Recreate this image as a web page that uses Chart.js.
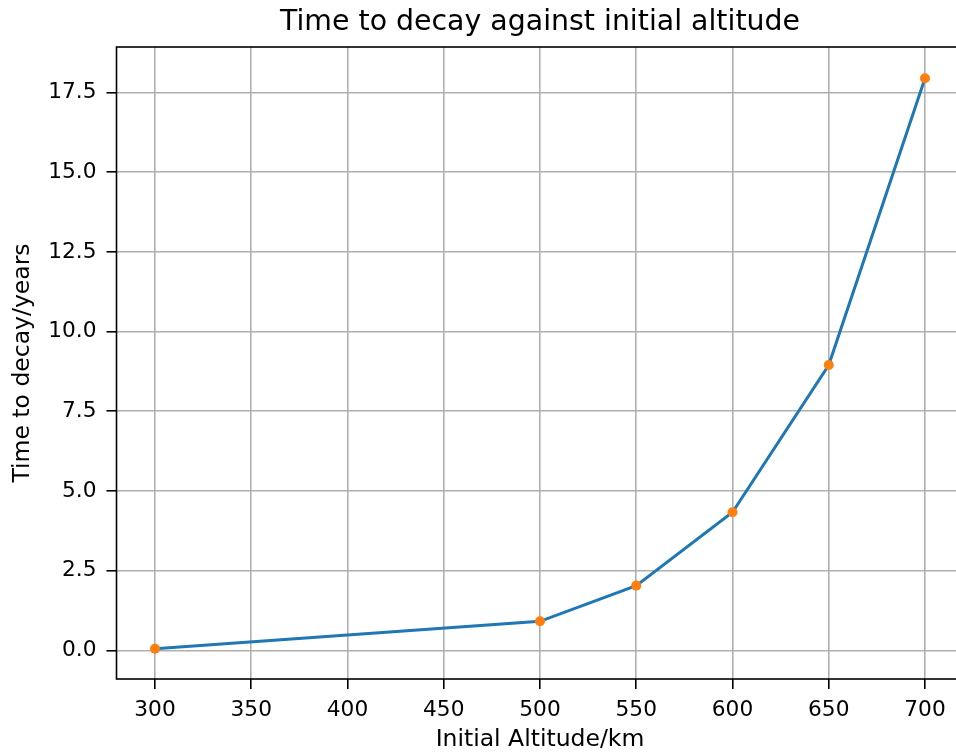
<!DOCTYPE html>
<html>
<head>
<meta charset="utf-8">
<script src="https://cdn.jsdelivr.net/npm/chart.js@4"></script>
<style>
  html, body { margin: 0; padding: 0; overflow: hidden; background: #fff; }
</style>
</head>
<body>
<canvas id="chart" width="970" height="755"></canvas>
<script>
var altitudes = [300, 500, 550, 600, 650, 700];
var decayYears = [0.05, 0.91, 2.03, 4.33, 8.95, 17.95];

var xStep = 50;
var yStep = 2.5;

var font = "'DejaVu Sans', sans-serif";

// box round the plot area, like a full set of spines
var frame = {
    id: 'frame',
    afterDraw: function (chart) {
        var a = chart.chartArea;
        var ctx = chart.ctx;
        ctx.save();
        ctx.strokeStyle = '#000';
        ctx.lineWidth = 1.6;
        ctx.strokeRect(a.left, a.top, a.right - a.left, a.bottom - a.top);
        ctx.restore();
    }
};

var points = [];
for (var i = 0; i < altitudes.length; ++i)
    points.push({x: altitudes[i], y: decayYears[i]});

var gridOpts = {
    color: '#b0b0b0',
    lineWidth: 1.6,
    tickColor: '#000',
    tickLength: 10,
    tickWidth: 1.6
};

new Chart(document.getElementById("chart"), {
    type: 'line',
    data: {
        datasets: [{
            data: points,
            borderColor: '#1f77b4',
            borderWidth: 3,
            pointRadius: 5,
            pointHoverRadius: 5,
            pointBackgroundColor: '#ff7f0e',
            pointBorderWidth: 0,
            tension: 0
        }]
    },
    options: {
        responsive: false,
        animation: false,
        layout: {padding: {top: 0, right: 6.5, bottom: 0, left: 0}},
        plugins: {
            legend: {display: false},
            tooltip: {enabled: false},
            title: {display: false}
        },
        scales: {
            // empty top axis, only carries the title so it centres over the plot
            top: {
                type: 'linear',
                position: 'top',
                min: 280,
                max: 720,
                afterFit: function (s) { s.height = 47; },
                ticks: {display: false},
                grid: {display: false},
                border: {display: false},
                title: {
                    display: true,
                    text: 'Time to decay against initial altitude',
                    color: '#000',
                    font: {family: font, size: 28.4},
                    padding: {top: 5.6, bottom: 0}
                }
            },
            x: {
                type: 'linear',
                position: 'bottom',
                min: 280,
                max: 720,
                afterFit: function (s) { s.height = 76; },
                ticks: {
                    stepSize: xStep,
                    includeBounds: false,
                    color: '#000',
                    padding: 8,
                    maxRotation: 0,
                    font: {family: font, size: 21.7}
                },
                grid: gridOpts,
                border: {display: false},
                title: {
                    display: true,
                    text: 'Initial Altitude/km',
                    color: '#000',
                    font: {family: font, size: 23.5},
                    padding: {top: 0, bottom: 1}
                }
            },
            y: {
                min: -0.9,
                max: 18.93,
                afterFit: function (s) { s.width = 116.5; },
                ticks: {
                    stepSize: yStep,
                    includeBounds: false,
                    color: '#000',
                    padding: 10,
                    font: {family: font, size: 21.7},
                    callback: function (v) { return v.toFixed(1); }
                },
                grid: gridOpts,
                border: {display: false},
                title: {
                    display: true,
                    text: 'Time to decay/years',
                    color: '#000',
                    font: {family: font, size: 23.5},
                    padding: {top: 9, bottom: 0}
                }
            }
        }
    },
    plugins: [frame]
});
</script>
</body>
</html>
